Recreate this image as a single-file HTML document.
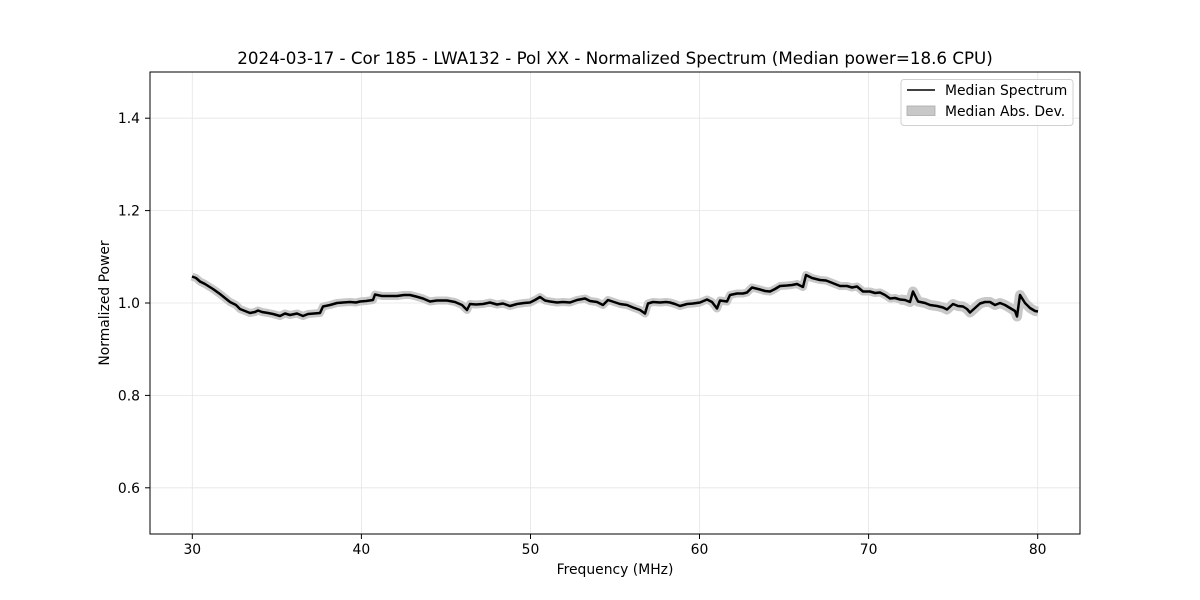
<!DOCTYPE html>
<html><head><meta charset="utf-8"><style>
html,body{margin:0;padding:0;background:#fff;}
svg{display:block;}
text{font-family:"DejaVu Sans","Liberation Sans",sans-serif;fill:#000;}
</style></head><body>
<svg width="1200" height="600" viewBox="0 0 1200 600" xmlns="http://www.w3.org/2000/svg">
<defs>
<polyline id="p" points="192,276.5 196,278 200,281.5 205,284 213,289 220,294 230,302 236,305 240,309 245,311 250,313 255,312 258,310.5 262,312 268,313 273,314 280,316 285,313.5 290,315 297,313.5 303,316 308,314 314,313.5 320,313 323,306.5 330,305 337,303 343,302.5 350,302 356,302.5 360,301.5 366,301 373,300 375,294.5 382,296 390,296 397,296 404,295 410,295 416,296.5 423,298.5 430,301.5 437,300.5 447,300.5 455,302 462,305 467,310 470,304 476,304.5 483,304 490,302.5 497,304.5 503,303.5 510,306 517,304 524,303 530,302.5 535,300 540,297 545,300.5 550,301.5 557,302.5 563,302 570,302.5 577,300 585,298.5 590,301 597,302 603,305 608,300 614,302 620,304 627,305 633,307.5 640,310 645,313.5 648,303.5 653,302 660,302.5 666,302 670,302.5 675,304 680,306 687,304 693,303.5 700,302.5 707,299.5 712,302 717,308.5 720,300.5 727,301.5 730,295 737,293.5 743,293.5 747,292.5 752,287.5 760,289.5 765,291 770,291.5 775,289 780,286 787,285.5 792,285 797,284 803,287 806,275 812,278 820,280 826,280.5 830,282 835,284 840,286 847,286 852,287.5 857,286.5 863,291.5 870,291.5 875,293 880,292.5 885,295 890,298.5 895,298 900,299.5 905,300 910,302 913,291.5 918,301.5 925,303 930,305 937,306 943,307.5 947,309.5 953,304 958,306 963,306.5 967,309 970,312.5 975,308 980,303.5 985,302 990,302 995,305 1000,303 1005,305 1010,308 1015,311 1017,316.5 1020,295 1025,303 1030,308 1035,311 1038,311.5"/>
</defs>
<rect width="1200" height="600" fill="#fff"/>
<!-- grid -->
<g stroke="#e5e5e5" stroke-width="0.8">
<line x1="192.3" y1="72" x2="192.3" y2="534"/>
<line x1="361.4" y1="72" x2="361.4" y2="534"/>
<line x1="530.5" y1="72" x2="530.5" y2="534"/>
<line x1="699.5" y1="72" x2="699.5" y2="534"/>
<line x1="868.6" y1="72" x2="868.6" y2="534"/>
<line x1="1037.7" y1="72" x2="1037.7" y2="534"/>
<line x1="150" y1="487.8" x2="1080" y2="487.8"/>
<line x1="150" y1="395.4" x2="1080" y2="395.4"/>
<line x1="150" y1="303" x2="1080" y2="303"/>
<line x1="150" y1="210.6" x2="1080" y2="210.6"/>
<line x1="150" y1="118.2" x2="1080" y2="118.2"/>
</g>
<!-- band -->
<use href="#p" fill="none" stroke="#c8c8c8" stroke-width="8" stroke-linejoin="round" stroke-linecap="butt"/>
<polyline fill="none" stroke="#c8c8c8" stroke-width="10" stroke-linejoin="round" stroke-linecap="butt" points="900,299.5 905,300 910,302 913,291.5 918,301.5 925,303 930,305 937,306 943,307.5 947,309.5 953,304 958,306 963,306.5 967,309 970,312.5 975,308 980,303.5 985,302 990,302 995,305 1000,303 1005,305 1010,308 1015,311 1017,316.5 1020,295 1025,303 1030,308 1035,311 1038,311.5"/>
<!-- median line -->
<use href="#p" fill="none" stroke="#000" stroke-width="2.5" stroke-linejoin="round"/>
<!-- axes frame -->
<rect x="150" y="72" width="930" height="462" fill="none" stroke="#000" stroke-width="1"/>
<!-- ticks -->
<g stroke="#000" stroke-width="1">
<line x1="192.3" y1="534" x2="192.3" y2="539"/>
<line x1="361.4" y1="534" x2="361.4" y2="539"/>
<line x1="530.5" y1="534" x2="530.5" y2="539"/>
<line x1="699.5" y1="534" x2="699.5" y2="539"/>
<line x1="868.6" y1="534" x2="868.6" y2="539"/>
<line x1="1037.7" y1="534" x2="1037.7" y2="539"/>
<line x1="145" y1="487.8" x2="150" y2="487.8"/>
<line x1="145" y1="395.4" x2="150" y2="395.4"/>
<line x1="145" y1="303" x2="150" y2="303"/>
<line x1="145" y1="210.6" x2="150" y2="210.6"/>
<line x1="145" y1="118.2" x2="150" y2="118.2"/>
</g>
<g font-size="13.9" text-anchor="middle">
<text x="192.3" y="554">30</text>
<text x="361.4" y="554">40</text>
<text x="530.5" y="554">50</text>
<text x="699.5" y="554">60</text>
<text x="868.6" y="554">70</text>
<text x="1037.7" y="554">80</text>
</g>
<g font-size="13.9" text-anchor="end">
<text x="140" y="492.8">0.6</text>
<text x="140" y="400.4">0.8</text>
<text x="140" y="308">1.0</text>
<text x="140" y="215.6">1.2</text>
<text x="140" y="123.2">1.4</text>
</g>
<text x="615" y="574" font-size="13.9" text-anchor="middle">Frequency (MHz)</text>
<text transform="translate(109,303) rotate(-90)" font-size="13.9" text-anchor="middle">Normalized Power</text>
<text x="615" y="64" font-size="16.7" text-anchor="middle">2024-03-17 - Cor 185 - LWA132 - Pol XX - Normalized Spectrum (Median power=18.6 CPU)</text>
<!-- legend -->
<rect x="901" y="79.5" width="172" height="46" rx="3" fill="#fff" fill-opacity="0.8" stroke="#d0d0d0" stroke-width="1"/>
<line x1="907" y1="90" x2="935" y2="90" stroke="#000" stroke-width="1.5"/>
<rect x="907" y="106" width="28" height="9.5" fill="#c8c8c8" stroke="#aaaaaa" stroke-width="0.8"/>
<text x="945" y="95" font-size="13.9">Median Spectrum</text>
<text x="945" y="116" font-size="13.9">Median Abs. Dev.</text>
</svg>
</body></html>
